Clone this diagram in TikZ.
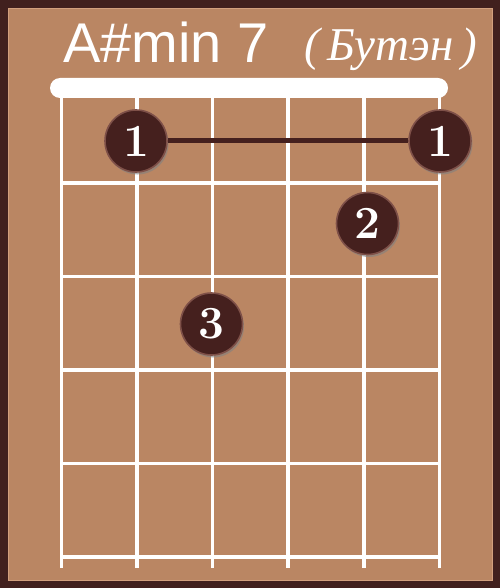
\documentclass[tikz,border=0pt]{standalone}
\usepackage{fontspec}
\usepackage{tikz}
\usetikzlibrary{positioning,shadows}
\usepackage{xcolor}

\newfontfamily\chordfont{Liberation Sans}
\newfontfamily\tunefont{Liberation Serif}

\definecolor{frame}{HTML}{41201E}
\definecolor{board}{HTML}{BA8663}
\definecolor{boardedge}{HTML}{D2A07E}
\definecolor{dotfill}{HTML}{45201E}
\definecolor{dotring}{HTML}{7E5048}

\begin{document}
\begin{tikzpicture}[
  x=1pt, y=-1pt,
  wire/.style={draw=white, line width=3.3pt},
  finger/.style={circle, fill=dotfill, draw=dotring, line width=1.6pt,
                 minimum size=62pt, inner sep=0pt, text=white,
                 font=\fontsize{46}{46}\selectfont\bfseries,
                 drop shadow={opacity=0.6, shadow xshift=1.5pt, shadow yshift=-2.5pt}},
  barre/.style={draw=dotfill, line width=5pt}
]
  % Frame and board
  \useasboundingbox (0,0) rectangle (500,588);
  \fill[frame] (0,0) rectangle (500,588);
  \filldraw[fill=board, draw=boardedge, line width=0.8pt] (8,8) rectangle (492,580);

  % Chord name
  \node[anchor=base west, inner sep=0pt, text=white,
        font=\chordfont\fontsize{56}{56}\selectfont] (name) at (63,63) {A\#min 7};
  \node[anchor=base west, inner sep=0pt, text=white,
        font=\tunefont\itshape\fontsize{47}{47}\selectfont] (tuning) at (304,61) {(\,Бутэн\,)};

  % Nut
  \fill[white, rounded corners=10pt] (50,78) rectangle (448,98);

  % Strings
  \draw[wire] (61.5,96) -- (61.5,568);
  \draw[wire] (137,96)  -- (137,568);
  \draw[wire] (212.5,96) -- (212.5,568);
  \draw[wire] (288,96)  -- (288,568);
  \draw[wire] (364,96)  -- (364,568);
  \draw[wire] (439.5,96) -- (439.5,568);

  % Frets
  \draw[wire] (61.5,183)   -- (439.5,183);
  \draw[wire] (61.5,276.5) -- (439.5,276.5);
  \draw[wire] (61.5,370)   -- (439.5,370);
  \draw[wire] (61.5,463.5) -- (439.5,463.5);
  \draw[wire] (61.5,557)   -- (439.5,557);

  % Fingers
  \node[finger] (b1) at (136,141)    {1};
  \node[finger] (b6) at (440,141)    {1};
  \node[finger] (f2) at (367.5,223.5) {2};
  \node[finger] (f3) at (211.5,324)  {3};

  % Barre
  \draw[barre] (b1) -- (b6);
\end{tikzpicture}
\end{document}
